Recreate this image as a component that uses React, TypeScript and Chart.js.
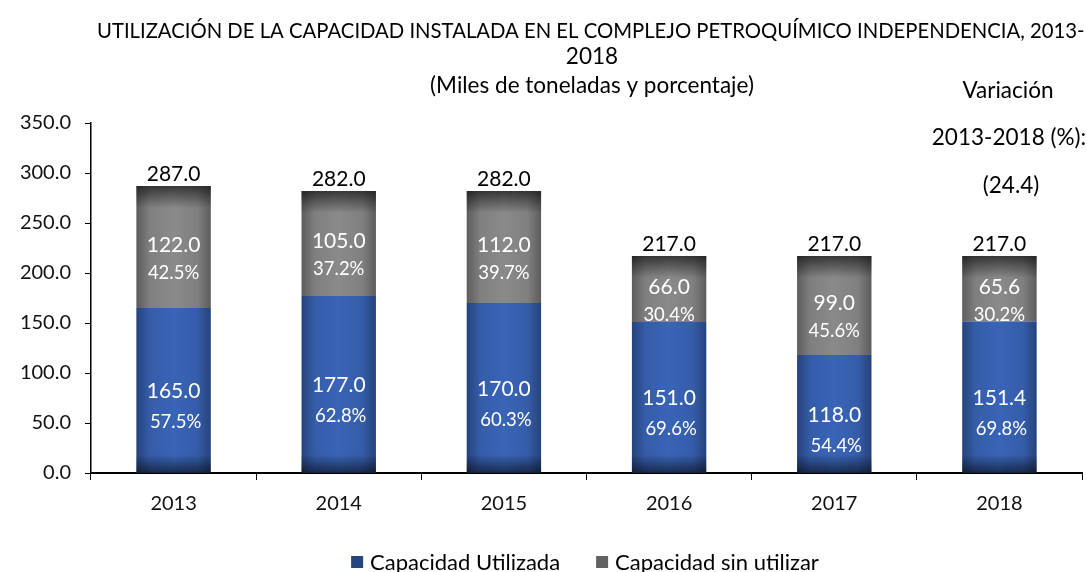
import React, { useEffect, useRef } from 'react';
import { Chart, registerables } from 'chart.js';

Chart.register(...registerables);

const categories = ['2013', '2014', '2015', '2016', '2017', '2018'];
const usedValues = [165.0, 177.0, 170.0, 151.0, 118.0, 151.4];
const unusedValues = [122.0, 105.0, 112.0, 66.0, 99.0, 65.6];
const usedPct = ['57.5%', '62.8%', '60.3%', '69.6%', '54.4%', '69.8%'];
const unusedPct = ['42.5%', '37.2%', '39.7%', '30.4%', '45.6%', '30.2%'];
const seriesNames = ['Capacidad Utilizada', 'Capacidad sin utilizar'];
const titleLines = [
  'UTILIZACIÓN DE LA CAPACIDAD INSTALADA EN EL COMPLEJO PETROQUÍMICO INDEPENDENCIA, 2013-',
  '2018',
  '(Miles de toneladas y porcentaje)',
];
const variationLines = ['Variación', '2013-2018 (%):', '(24.4)'];
const yMin = 0;
const yMax = 350;
const yStep = 50;

const FONT = 'Lato';
const BLUE = '#3964b7';
const GREY = '#8a8a8a';

const decorPlugin = {
  id: 'decor',
  afterDatasetDraw(chart: any, args: any) {
    const ctx = chart.ctx;
    const i = args.index;
    args.meta.data.forEach((el: any) => {
      const { x, y, base, width } = el.getProps(['x', 'y', 'base', 'width'], true);
      const left = x - width / 2;
      const top = Math.min(y, base);
      const bottom = Math.max(y, base);
      ctx.save();
      const hg = ctx.createLinearGradient(left, 0, left + width, 0);
      hg.addColorStop(0, 'rgba(0,0,0,0.33)');
      hg.addColorStop(0.18, 'rgba(0,0,0,0.08)');
      hg.addColorStop(0.5, 'rgba(0,0,0,0)');
      hg.addColorStop(0.82, 'rgba(0,0,0,0.08)');
      hg.addColorStop(1, 'rgba(0,0,0,0.33)');
      ctx.fillStyle = hg;
      ctx.fillRect(left, top, width, bottom - top);
      if (i === 0) {
        const vg = ctx.createLinearGradient(0, bottom - 18, 0, bottom);
        vg.addColorStop(0, 'rgba(0,0,0,0)');
        vg.addColorStop(1, 'rgba(0,0,0,0.55)');
        ctx.fillStyle = vg;
        ctx.fillRect(left, bottom - 18, width, 18);
      } else {
        const vg = ctx.createLinearGradient(0, top, 0, top + 22);
        vg.addColorStop(0, 'rgba(0,0,0,0.6)');
        vg.addColorStop(1, 'rgba(0,0,0,0)');
        ctx.fillStyle = vg;
        ctx.fillRect(left, top, width, 22);
      }
      ctx.restore();
    });
  },
  afterDatasetsDraw(chart: any) {
    const ctx = chart.ctx;
    const m0 = chart.getDatasetMeta(0);
    const m1 = chart.getDatasetMeta(1);
    ctx.save();
    ctx.textAlign = 'center';
    ctx.textBaseline = 'middle';
    m0.data.forEach((el: any, k: number) => {
      const { x, y, base } = el.getProps(['x', 'y', 'base'], true);
      const c = (y + base) / 2;
      ctx.fillStyle = '#ffffff';
      ctx.font = `21px ${FONT}`;
      ctx.fillText(usedValues[k].toFixed(1), x, c + 1);
      ctx.font = `18.5px ${FONT}`;
      ctx.fillText(usedPct[k], x + 2, c + 32);
    });
    m1.data.forEach((el: any, k: number) => {
      const { x, y, base } = el.getProps(['x', 'y', 'base'], true);
      const c = (y + base) / 2;
      ctx.fillStyle = '#ffffff';
      ctx.font = `21px ${FONT}`;
      ctx.fillText(unusedValues[k].toFixed(1), x, c - 2);
      ctx.font = `18.5px ${FONT}`;
      ctx.fillText(unusedPct[k], x, c + 26);
      ctx.fillStyle = '#000000';
      ctx.font = `21px ${FONT}`;
      ctx.textBaseline = 'alphabetic';
      ctx.fillText((usedValues[k] + unusedValues[k]).toFixed(1), x, y - 5);
      ctx.textBaseline = 'middle';
    });
    ctx.restore();
  },
  afterDraw(chart: any) {
    const ctx = chart.ctx;
    ctx.save();
    ctx.fillStyle = '#000000';
    ctx.textBaseline = 'middle';
    // title line 1 fitted to reference width
    ctx.font = `17px ${FONT}`;
    const w1 = ctx.measureText(titleLines[0].slice(0, -1)).width;
    const size1 = (17 * 981) / w1;
    const w3 = ctx.measureText(titleLines[2]).width;
    const size3 = (17 * 324) / w3;
    ctx.font = `${size1}px ${FONT}`;
    ctx.textAlign = 'left';
    ctx.fillText(titleLines[0], 97, 31);
    ctx.textAlign = 'center';
    ctx.font = `${size3}px ${FONT}`;
    ctx.fillText(titleLines[1], 592, 57);
    ctx.fillText(titleLines[2], 592, 86);
    // variation note
    ctx.fillText(variationLines[0], 1008, 91);
    ctx.fillText(variationLines[1], 1009, 138);
    ctx.fillText(variationLines[2], 1011, 186);
    // legend
    const legendColors = ['#27457f', '#626262'];
    ctx.font = `22px ${FONT}`;
    ctx.textAlign = 'left';
    const gap = 36;
    const box = 12;
    const tgap = 7;
    const widths = seriesNames.map((s) => box + tgap + ctx.measureText(s).width);
    const total = widths[0] + gap + widths[1];
    let lx = 585 - total / 2;
    const ly = 562;
    seriesNames.forEach((s, k) => {
      ctx.fillStyle = legendColors[k];
      ctx.fillRect(lx, ly - box / 2, box, box);
      ctx.fillStyle = '#000000';
      ctx.fillText(s, lx + box + tgap, ly + 1);
      lx += widths[k] + gap;
    });
    ctx.restore();
  },
};

export default function App() {
  const ref = useRef<HTMLCanvasElement | null>(null);
  useEffect(() => {
    if (!ref.current) return;
    Chart.defaults.font.family = FONT;
    const chart = new Chart(ref.current, {
      type: 'bar',
      data: {
        labels: categories,
        datasets: [
          { label: seriesNames[0], data: usedValues, backgroundColor: BLUE, borderWidth: 0 },
          { label: seriesNames[1], data: unusedValues, backgroundColor: GREY, borderWidth: 0 },
        ],
      },
      options: {
        animation: false,
        responsive: true,
        maintainAspectRatio: false,
        layout: { padding: { left: 0, right: 5, top: 123, bottom: 59 } },
        datasets: { bar: { barPercentage: 0.45, categoryPercentage: 1 } },
        plugins: {
          legend: { display: false },
          title: { display: false },
          tooltip: { enabled: false },
        },
        scales: {
          x: {
            stacked: true,
            afterFit: (s: any) => { s.height = 40; },
            grid: { drawOnChartArea: false, color: '#000', tickColor: '#000', tickLength: 7, offset: true },
            border: { display: true, color: '#000', width: 2 },
            ticks: { color: '#111', font: { size: 20, family: FONT }, padding: 12 },
          },
          y: {
            stacked: true,
            min: yMin,
            max: yMax,
            afterFit: (s: any) => { s.width = 91; },
            grid: { drawOnChartArea: false, color: '#000', tickColor: '#000', tickLength: 6 },
            border: { display: true, color: '#000', width: 1.5 },
            ticks: {
              stepSize: yStep,
              color: '#111',
              padding: 14,
              font: { size: 20, family: FONT },
              callback: (v: any) => Number(v).toFixed(1),
            },
          },
        },
      },
      plugins: [decorPlugin],
    });
    return () => chart.destroy();
  }, []);
  return (
    <div style={{ position: 'fixed', left: 0, top: 0, width: 1087, height: 572, background: '#fff' }}>
      <canvas ref={ref} />
    </div>
  );
}
